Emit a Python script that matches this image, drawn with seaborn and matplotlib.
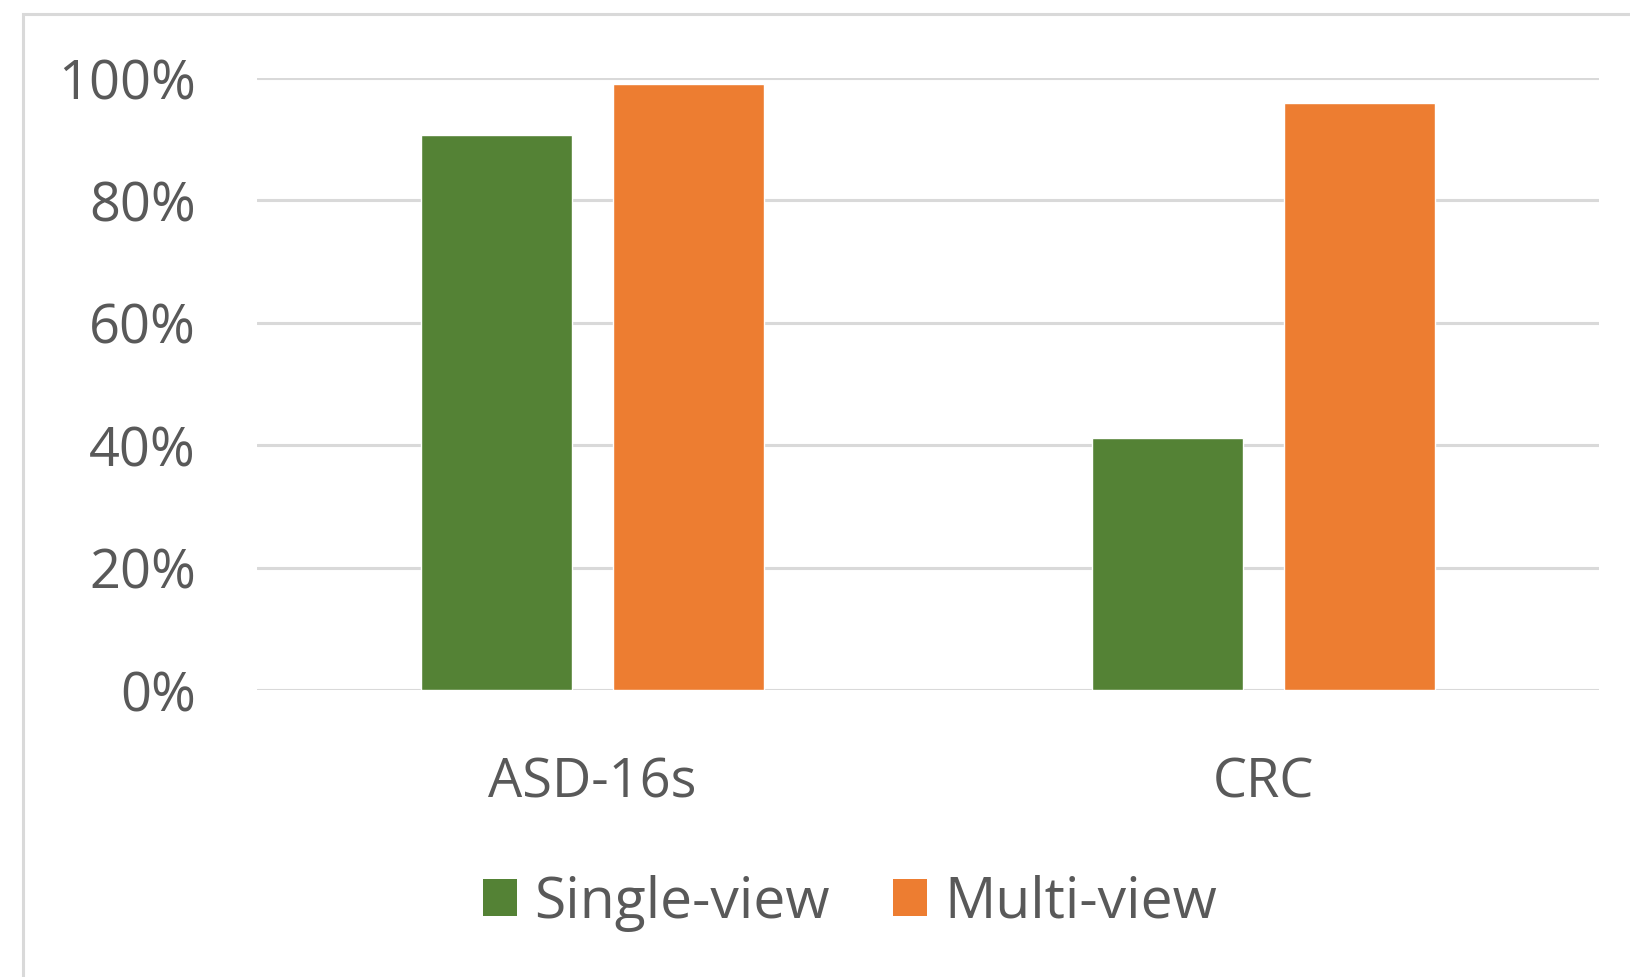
import matplotlib
matplotlib.use("Agg")
import matplotlib.pyplot as plt
import matplotlib.patches as mpatches
import matplotlib.ticker as mticker
import pandas as pd
import seaborn as sns

# Chart data
categories = ["ASD-16s", "CRC"]
series_names = ["Single-view", "Multi-view"]
single_view = [90.7, 41.2]
multi_view = [99.1, 95.9]
y_ticks = [0, 20, 40, 60, 80, 100]
colors = ["#548235", "#ED7D31"]

df = pd.DataFrame({
    "dataset": categories * 2,
    "method": [series_names[0]] * len(categories) + [series_names[1]] * len(categories),
    "accuracy": single_view + multi_view,
})

sns.set_theme(style="white")
plt.rcParams["font.family"] = ["Open Sans", "DejaVu Sans"]

text_color = "#595959"
grid_color = "#D9D9D9"
fs = 39
legend_fs = 41

fig = plt.figure(figsize=(16.3, 9.77), dpi=100)
fig.patch.set_facecolor("white")

# outer chart-area border
frame = mpatches.Rectangle((23 / 1630, -0.2), 1.2, 1.2 - 14 / 977,
                           transform=fig.transFigure, fill=False,
                           edgecolor=grid_color, linewidth=2.2, clip_on=False)
fig.add_artist(frame)

ax = fig.add_axes([257 / 1630, 1 - 690 / 977, (1599 - 257) / 1630, (690 - 78) / 977])

sns.barplot(data=df, x="dataset", y="accuracy", hue="method",
            hue_order=series_names, order=categories, palette=colors,
            width=0.57, gap=0.21, saturation=1, ax=ax, zorder=3)

ax.set_xlim(-0.5, 1.5)
ax.set_ylim(0, 100)
ax.set_yticks(y_ticks)
ax.yaxis.set_major_formatter(mticker.FuncFormatter(lambda v, _: f"{v:.0f}%"))
ax.grid(axis="y", color=grid_color, linewidth=2.2, zorder=0)
ax.grid(axis="x", visible=False)
ax.set_axisbelow(True)
for s in ax.spines.values():
    s.set_visible(False)
ax.set_xlabel("")
ax.set_ylabel("")
ax.tick_params(axis="y", length=0, pad=44, labelsize=fs, labelcolor=text_color)
ax.tick_params(axis="x", length=0, pad=47, labelsize=fs, labelcolor=text_color)

ax.get_legend().remove()
handles = [mpatches.Patch(facecolor=c, edgecolor="none", label=n)
           for c, n in zip(colors, series_names)]
fig.legend(handles=handles, loc="center", bbox_to_anchor=(850 / 1630, 1 - 903 / 977),
           ncol=2, frameon=False, fontsize=legend_fs, labelcolor=text_color,
           handlelength=0.6, handleheight=0.6, handletextpad=0.3,
           columnspacing=1.1, borderaxespad=0, borderpad=0)

fig.savefig("out.png", dpi=100, facecolor="white")
